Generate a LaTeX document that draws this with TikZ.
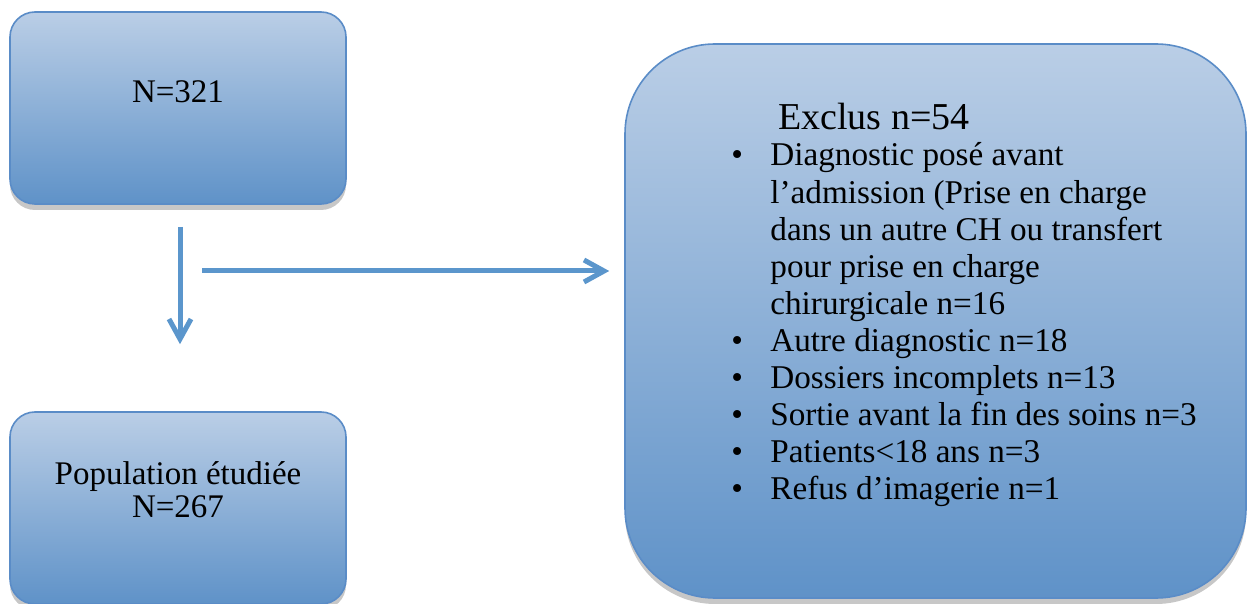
\documentclass[tikz,border=0pt]{standalone}
\usepackage{fontspec}
\setmainfont{Liberation Serif}
\usetikzlibrary{arrows.meta,shadows}
\definecolor{boxtop}{HTML}{BACEE6}
\definecolor{boxbot}{HTML}{5F92C8}
\definecolor{boxedge}{HTML}{5A8CC7}
\definecolor{arrowblue}{HTML}{5B96CC}
\definecolor{ink}{HTML}{000000}
\tikzset{
  flow/.style={
    -{Straight Barb[length=10pt,width=11pt]},
    draw=arrowblue,
    line width=2.5pt
  },
  block/.style={
    rectangle,
    rounded corners=12.5pt,
    draw=boxedge,
    line width=0.8pt,
    top color=boxtop,
    bottom color=boxbot,
    drop shadow={shadow xshift=0pt, shadow yshift=-3pt, opacity=0.22, fill=black},
    minimum width=168pt,
    minimum height=96pt,
    inner sep=0pt
  },
  bigblock/.style={
    block,
    rounded corners=45pt,
    minimum width=310.5pt,
    minimum height=277pt
  },
  boxtext/.style={
    text=ink,
    align=center,
    font=\fontsize{16.5}{16.5}\selectfont
  }
}

\begin{document}
\begin{tikzpicture}[x=0.5pt,y=-0.5pt]
  \useasboundingbox (0,0) rectangle (1248,604);

  % ============================================================
  % Left column -- total and studied population
  % ============================================================
  \node[block] (total) at (178,108) {};
  \node[boxtext] (total_lbl) at (178,92) {N=321};

  \node[block] (pop) at (178,508) {};
  \node[boxtext] (pop_lbl) at (178,490)
       {Population étudiée\\N=267};

  % ============================================================
  % Right column -- excluded patients
  % ============================================================
  \node[bigblock] (excl) at (935.5,321) {};
  \node[text=ink, font=\fontsize{19}{22}\selectfont] (excl_hdr)
       at (874,117) {Exclus n=54};

  \node[text=ink, anchor=base west, inner sep=0pt,
        font=\fontsize{16.6}{18.55}\selectfont] (excl_list) at (731,166)
       {\begin{tabular}[t]{@{}p{19.5pt}@{}l@{}}
          \textbullet & Diagnostic posé avant\\
                      & l’admission (Prise en charge\\
                      & dans un autre CH ou transfert\\
                      & pour prise en charge\\
                      & chirurgicale n=16\\
          \textbullet & Autre diagnostic n=18\\
          \textbullet & Dossiers incomplets n=13\\
          \textbullet & Sortie avant la fin des soins n=3\\
          \textbullet & Patients<18 ans n=3\\
          \textbullet & Refus d’imagerie n=1
        \end{tabular}};

  % ============================================================
  % Arrows
  % ============================================================
  \draw[flow] ([xshift=1pt,yshift=-11pt]total.south) -- ([xshift=1pt,yshift=33.5pt]pop.north);

  \coordinate (branch) at (202,271);
  \draw[flow, shorten >=7.5pt] (branch) -- (branch -| excl.west);

\end{tikzpicture}
\end{document}
